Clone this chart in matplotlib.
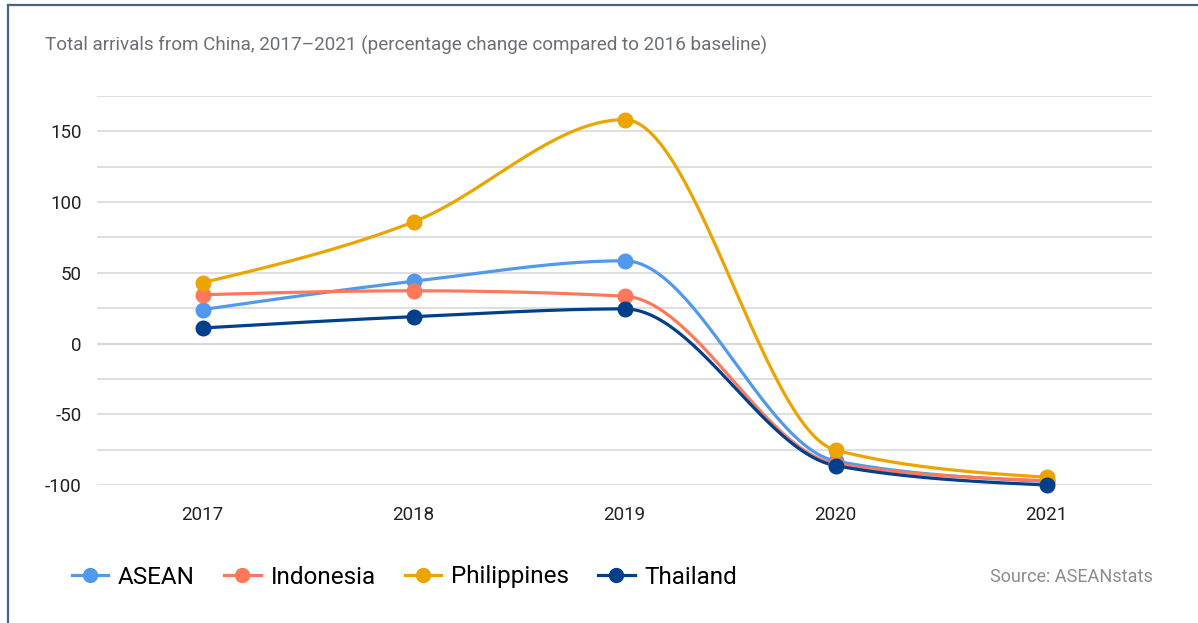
import numpy as np
import matplotlib.pyplot as plt
from matplotlib.lines import Line2D

# data (% change vs 2016)
years = [2017, 2018, 2019, 2020, 2021]
asean = [24, 44, 58.5, -83, -97.5]
indonesia = [34.5, 37.3, 33.5, -85, -97]
philippines = [43, 86, 158.3, -75.3, -94.5]
thailand = [11, 19, 24.5, -86.3, -100]

series_names = ["ASEAN", "Indonesia", "Philippines", "Thailand"]
series_colors = ["#5199ec", "#ff785a", "#eca400", "#003f8c"]
yticks = [-100, -50, 0, 50, 100, 150]


def monotone_curve(x, y, n=60):
    # d3-style monotoneX spline through the points
    x = np.asarray(x, float)
    y = np.asarray(y, float)
    h = np.diff(x)
    s = np.diff(y) / h
    m = np.zeros(len(x))
    for i in range(1, len(x) - 1):
        p = (s[i - 1] * h[i] + s[i] * h[i - 1]) / (h[i - 1] + h[i])
        m[i] = (np.sign(s[i - 1]) + np.sign(s[i])) * min(abs(s[i - 1]), abs(s[i]), 0.5 * abs(p))
    m[0] = (3 * s[0] - m[1]) / 2
    m[-1] = (3 * s[-1] - m[-2]) / 2
    xs, ys = [], []
    for i in range(len(x) - 1):
        t = np.linspace(0, 1, n)
        h00 = 2 * t**3 - 3 * t**2 + 1
        h10 = t**3 - 2 * t**2 + t
        h01 = -2 * t**3 + 3 * t**2
        h11 = t**3 - t**2
        xs.append(x[i] + t * h[i])
        ys.append(h00 * y[i] + h10 * h[i] * m[i] + h01 * y[i + 1] + h11 * h[i] * m[i + 1])
    return np.concatenate(xs), np.concatenate(ys)


plt.rcParams['font.family'] = ['Roboto', 'DejaVu Sans']

fig = plt.figure(figsize=(11.98, 6.23), dpi=100)
ax = fig.add_axes([97 / 1198, 1 - 485 / 623, (1152 - 97) / 1198, (485 - 96) / 623])

for vals, name, col in zip([asean, indonesia, philippines, thailand], series_names, series_colors):
    cx, cy = monotone_curve(years, vals)
    ax.plot(cx, cy, color=col, lw=2.3, solid_capstyle='round', zorder=3, clip_on=False)
    ax.plot(years, vals, 'o', color=col, ms=10.5, zorder=4, clip_on=False)

ax.set_xlim(2016.5, 2021.5)
ax.set_ylim(-100, 175)
ax.set_xticks(years)
ax.set_xticklabels([str(y) for y in years])
ax.set_yticks(yticks)
ax.set_yticklabels([str(v) for v in yticks])
ax.set_yticks(np.arange(-100, 176, 25), minor=True)
ax.grid(axis='y', which='both', color='#dcdcdc', lw=1.3, zorder=0)
ax.axhline(0, color='#b3b3b3', lw=1.5, zorder=1)
for sp in ax.spines.values():
    sp.set_visible(False)
ax.tick_params(axis='both', which='both', length=0, labelsize=13.5, colors='#222222')
ax.tick_params(axis='y', pad=11)
ax.tick_params(axis='x', pad=15)

fig.text(45 / 1198, 1 - 45 / 623, "Total arrivals from China, 2017\u20132021 (percentage change compared to 2016 baseline)",
         fontsize=13.6, color='#6b6f75', va='center', ha='left')
fig.text(1153 / 1198, 1 - 577 / 623, "Source: ASEANstats", fontsize=13, color='#8a8d91',
         va='center', ha='right')

handles = [Line2D([0], [0], color=c, lw=2.3, marker='o', ms=10) for c in series_colors]
fig.legend(handles, series_names, loc='center left', bbox_to_anchor=(72 / 1198, 1 - 577 / 623),
           ncol=4, frameon=False, fontsize=17.5, handlelength=1.5, handletextpad=0.4,
           columnspacing=1.2, borderaxespad=0, borderpad=0)

# frame edges on top and left
border = '#4a6382'
fig.add_artist(Line2D([8 / 1198, 1], [1 - 5 / 623, 1 - 5 / 623], color=border, lw=1.6, transform=fig.transFigure))
fig.add_artist(Line2D([8 / 1198, 8 / 1198], [0, 1 - 5 / 623], color=border, lw=1.6, transform=fig.transFigure))

fig.savefig("out.png", dpi=100, facecolor='white')
